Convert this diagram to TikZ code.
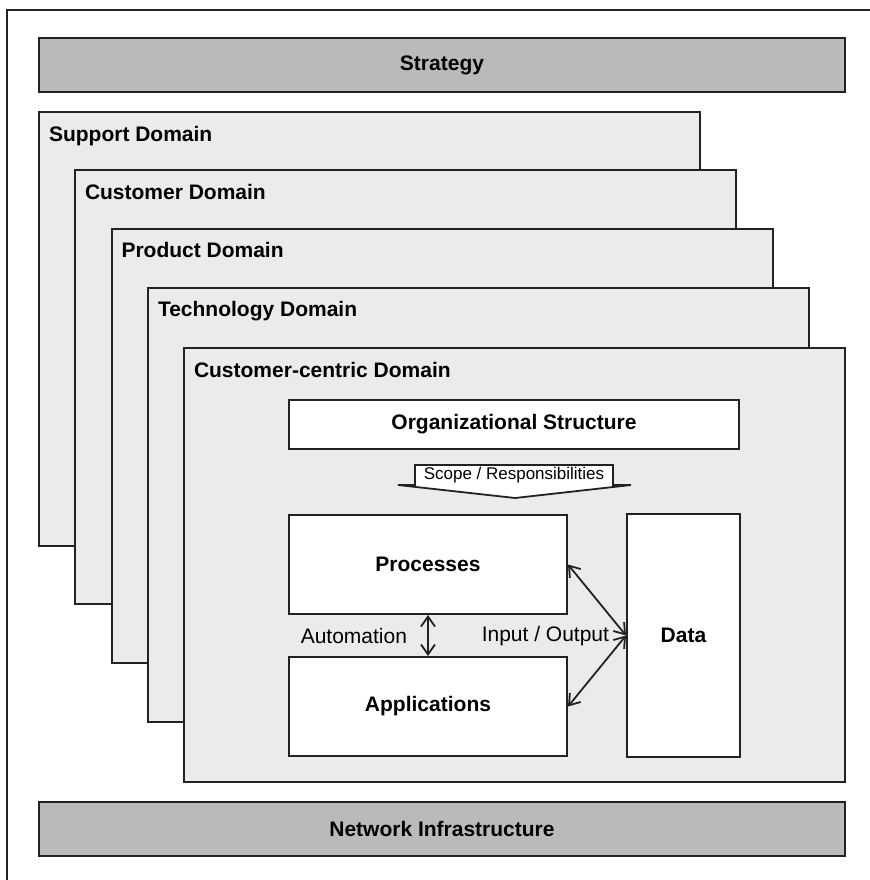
\documentclass[tikz,border=0pt]{standalone}
\usepackage{fontspec}
\setmainfont{Liberation Sans}
\usepackage{tikz}
\usetikzlibrary{arrows.meta,positioning,calc}
\definecolor{bargray}{HTML}{BABABA}
\definecolor{domgray}{HTML}{EAEBEA}
\definecolor{edge}{HTML}{222222}
\tikzset{
  >={Straight Barb[length=5pt,width=7pt]},
  every picture/.append style={line width=1pt},
  every node/.append style={font=\fontsize{10.5}{12}\selectfont},
}
\tikzset{
  bar/.style={draw=edge, fill=bargray, minimum width=403pt, minimum height=27pt, font=\fontsize{10.5}{12}\selectfont\bfseries},
  dompanel/.style={draw=edge, fill=domgray, minimum width=330.5pt, minimum height=217pt},
  domtitle/.style={anchor=base west, inner sep=0pt, font=\fontsize{10.5}{12}\selectfont\bfseries},
  box/.style={draw=edge, fill=white, align=center, font=\fontsize{10.5}{12}\selectfont\bfseries},
  arrow/.style={<->, edge, line width=0.9pt}
}

\begin{document}
\begin{tikzpicture}[x=0.5pt, y=-0.5pt]
\useasboundingbox (0,0) rectangle (870,880);

% Frame
\draw[edge] (7,10) rectangle (890,900);

% Top and bottom bars
\node[bar] (strategy) at (442,65) {Strategy};
\node[bar] (network) at (442,829) {Network Infrastructure};

% Stacked domains
\node[dompanel] (support) at (369.5,329) {};
\node[domtitle] (supportT) at ([xshift=5pt,yshift=-15pt]support.north west) {Support Domain};
\node[dompanel] (customer) at (405.5,387) {};
\node[domtitle] (customerT) at ([xshift=5pt,yshift=-15pt]customer.north west) {Customer Domain};
\node[dompanel] (product) at (442,445.5) {};
\node[domtitle] (productT) at ([xshift=5pt,yshift=-15pt]product.north west) {Product Domain};
\node[dompanel] (technology) at (478.5,504.5) {};
\node[domtitle] (technologyT) at ([xshift=5pt,yshift=-15pt]technology.north west) {Technology Domain};
\node[dompanel] (centric) at (514.5,565) {};
\node[domtitle] (centricT) at ([xshift=5pt,yshift=-15pt]centric.north west) {Customer-centric Domain};

% Inside the customer-centric domain
\node[box, minimum width=225pt, minimum height=24.5pt] (org) at (514,424.5) {Organizational Structure};

% Scope arrow
\draw[edge, fill=white, line width=0.9pt] (398,485) -- (415,485) -- (415,465) -- (613,465)
  -- (613,485) -- (631,485) -- (515,498) -- cycle;
\node[inner sep=0pt, font=\fontsize{8.5}{10}\selectfont] (scope) at (514,475) {Scope / Responsibilities};

\node[box, minimum width=139pt, minimum height=49.5pt] (proc) at (428,564.5) {Processes};
\node[box, minimum width=139pt, minimum height=49.5pt] (apps) at (428,706.5) {Applications};
\node[box, minimum width=56.5pt, minimum height=121.5pt] (data) at (683.5,635.5) {Data};

% Connectors
\draw[arrow] (proc.south) -- (apps.north);
\draw[arrow] (proc.east) -- (data.west);
\draw[arrow] (apps.east) -- (data.west);

\node[anchor=east, inner sep=0pt] (auto) at (408,636) {Automation};
\node[anchor=east, inner sep=0pt] (io) at (610,636) {Input / Output};

\end{tikzpicture}
\end{document}
